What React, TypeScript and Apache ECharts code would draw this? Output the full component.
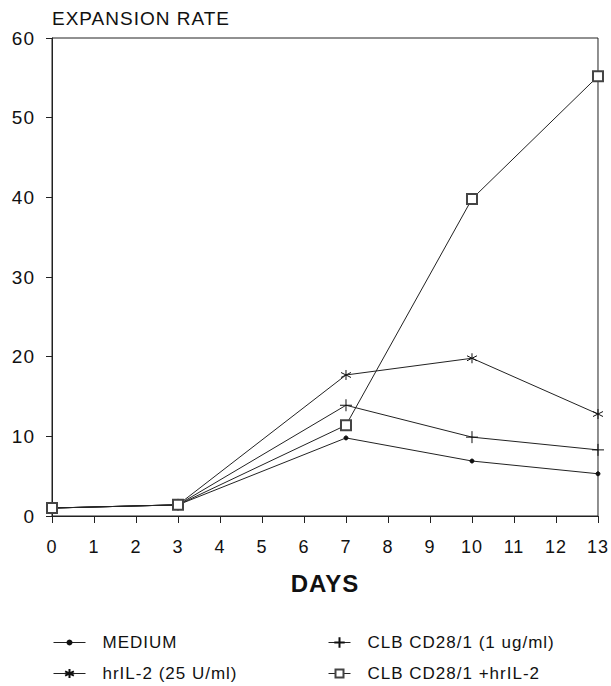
import React, { useEffect, useRef } from "react";
import * as echarts from "echarts";

const days = [0, 3, 7, 10, 13];
const medium = [1.0, 1.4, 9.8, 6.9, 5.3];
const hrIL2 = [1.0, 1.4, 17.7, 19.8, 12.8];
const clb = [1.0, 1.4, 13.9, 9.9, 8.3];
const clbIL2 = [1.0, 1.4, 11.4, 39.8, 55.2];

const seriesNames = [
  "MEDIUM",
  "hrIL-2 (25 U/ml)",
  "CLB CD28/1 (1 ug/ml)",
  "CLB CD28/1 +hrIL-2",
];

const yTitle = "EXPANSION RATE";
const xTitle = "DAYS";

const FONT = "'Liberation Sans', Arial, Helvetica, sans-serif";

const asterisk = "path://M5 0L5 10M0.67 2.5L9.33 7.5M0.67 7.5L9.33 2.5";
const plus = "path://M5 0L5 10M0 5L10 5";

export default function App() {
  const ref = useRef<HTMLDivElement>(null);
  useEffect(() => {
    if (!ref.current) return;
    const chart = echarts.init(ref.current, undefined, { renderer: "svg" });
    const pairs = (vals: number[]) => days.map((d, i) => [d, vals[i]]);
    const base = (
      name: string,
      vals: number[],
      symbol: string,
      size: number,
      col: string
    ) => ({
      name,
      type: "line",
      data: pairs(vals),
      symbol,
      symbolSize: size,
      showSymbol: true,
      lineStyle: { color: "#222", width: 1 },
      itemStyle: { color: col, borderColor: col, borderWidth: 1 },
      emphasis: { disabled: true },
    });
    const TEXT_H = 17;
    const leg = (name: string, left: number, cy: number, w: number, h: number) => ({
      data: [name],
      orient: "vertical",
      left,
      top: cy - Math.max(h, TEXT_H) / 2,
      padding: 0,
      itemWidth: w,
      itemHeight: h,
      lineStyle: { width: 1 },
      textStyle: { fontFamily: FONT, fontSize: 17, color: "#111", padding: [0, 0, 0, 12] },
    });
    chart.setOption({
      animation: false,
      backgroundColor: "#fff",
      title: {
        text: yTitle,
        left: 52,
        top: 9,
        padding: 0,
        textStyle: { fontFamily: FONT, fontSize: 19, fontWeight: "normal", color: "#111" },
      },
      grid: {
        left: 52,
        right: 13,
        top: 38,
        bottom: 170,
        show: true,
        borderColor: "#222",
        borderWidth: 1,
        backgroundColor: "transparent",
      },
      xAxis: {
        type: "value",
        min: 0,
        max: 13,
        interval: 1,
        name: xTitle,
        nameLocation: "middle",
        nameGap: 55,
        nameTextStyle: { fontFamily: FONT, fontSize: 24, fontWeight: "bold", color: "#111" },
        axisLine: { show: true, lineStyle: { color: "#222", width: 1 } },
        axisTick: { show: true, inside: false, length: 7, lineStyle: { color: "#222" } },
        axisLabel: { fontFamily: FONT, fontSize: 18, color: "#111", margin: 22 },
        splitLine: { show: false },
      },
      yAxis: {
        type: "value",
        min: 0,
        max: 60,
        interval: 10,
        axisLine: { show: true, lineStyle: { color: "#222", width: 1 } },
        axisTick: { show: true, inside: false, length: 6, lineStyle: { color: "#222" } },
        axisLabel: { fontFamily: FONT, fontSize: 19, color: "#111", margin: 17 },
        splitLine: { show: false },
      },
      legend: [
        leg(seriesNames[0], 53, 642.5, 32, 5),
        leg(seriesNames[1], 53, 673.5, 32, 11),
        leg(seriesNames[2], 328, 642.5, 22, 13),
        leg(seriesNames[3], 328, 673.5, 22, 10),
      ],
      series: [
        base(seriesNames[0], medium, "circle", 4, "#111"),
        base(seriesNames[1], hrIL2, asterisk, 10, "#111"),
        base(seriesNames[2], clb, plus, 12, "#111"),
        base(seriesNames[3], clbIL2, "emptyRect", 10, "#444"),
      ],
    });
    return () => chart.dispose();
  }, []);
  return (
    <div
      ref={ref}
      style={{
        position: "fixed",
        left: 0,
        top: 0,
        width: 611,
        height: 686,
        background: "#fff",
        letterSpacing: "1px",
      }}
    />
  );
}
